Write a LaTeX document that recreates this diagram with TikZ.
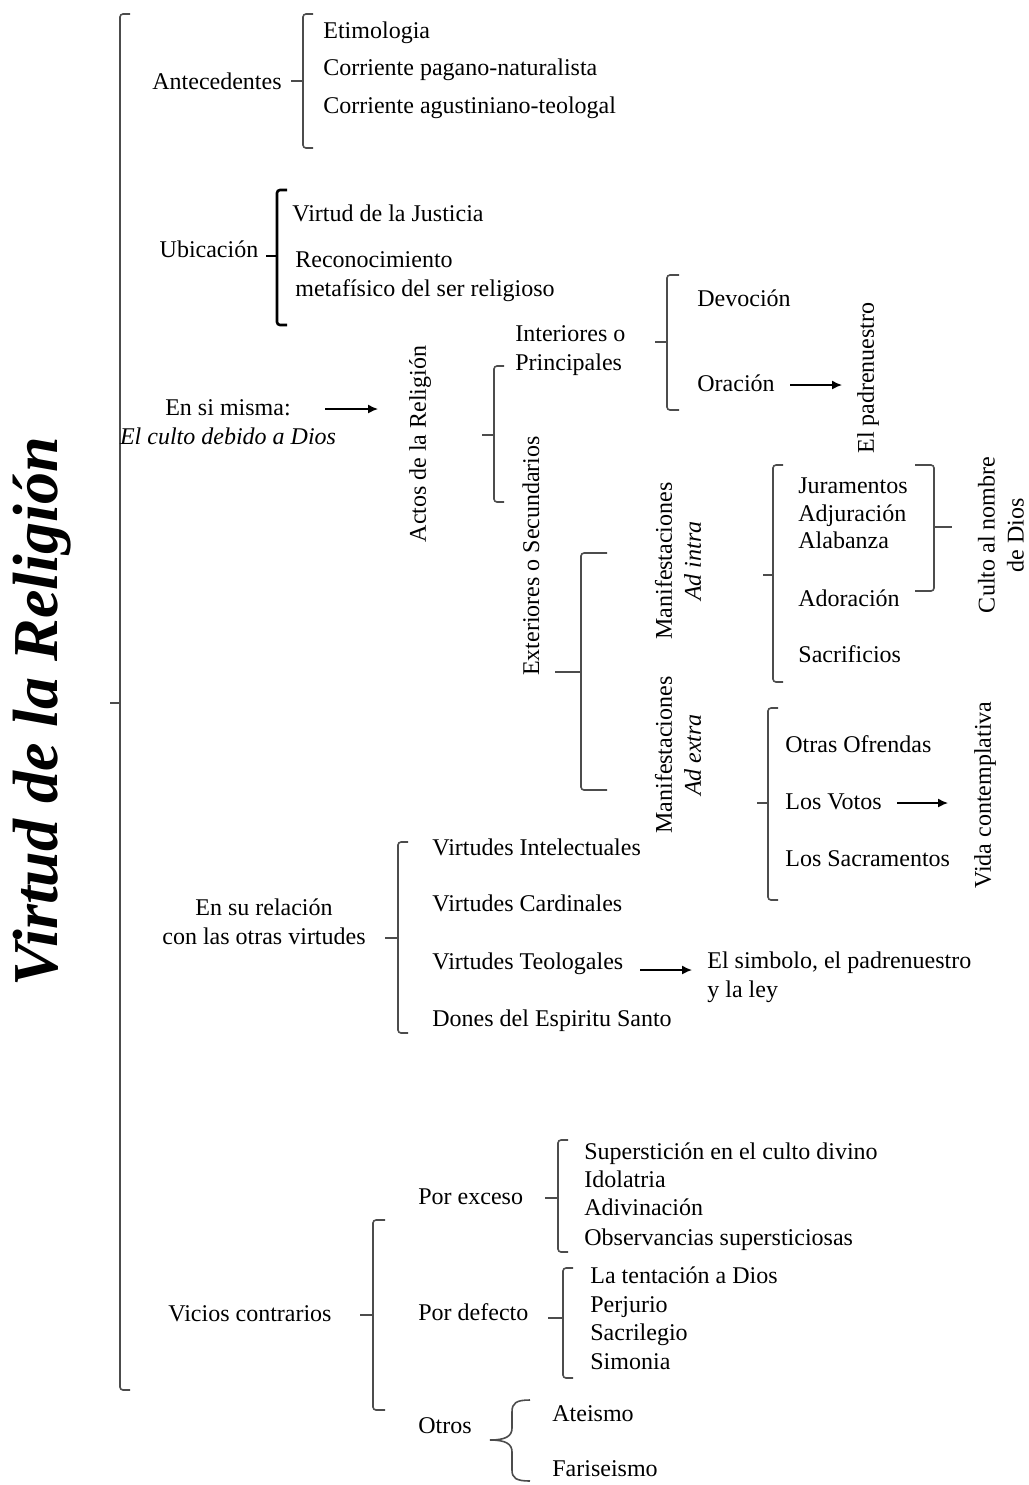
\documentclass[tikz,border=0pt]{standalone}
\usepackage{fontspec}
\setmainfont{Liberation Serif}
\usetikzlibrary{arrows.meta}
\newcommand\lbrk[7][]{%
  \draw[brk,#1] (#2+#6,#3) -- (#2,#3) -- (#2,#4) -- (#2+#6,#4);
  \draw[brk,#1] (#2,#5) -- (#2-#7,#5);}
\begin{document}
\begin{tikzpicture}[x=0.5pt,y=-0.5pt,
  txt/.style={inner sep=0pt, font=\fontsize{12}{14.5}\selectfont, text=black},
  item/.style={txt, anchor=west, text height=8.6pt, text depth=2.6pt},
  lbl/.style={txt, align=center},
  vert/.style={txt, align=center, rotate=90},
  brk/.style={draw=black!70, line width=0.8pt, rounded corners=1.5pt},
  bold brk/.style={draw=black, line width=1.3pt},
  arr/.style={-{Latex[length=5pt,width=4.5pt]}, line width=0.7pt, draw=black}
]
\useasboundingbox (0,0) rectangle (1029,1485);

% title and main bracket
\node[vert, font=\fontsize{32}{36}\selectfont\bfseries\itshape] (title) at (42,712) {Virtud de la Religión};
\lbrk{120}{14}{1390}{703}{10}{10}

% Antecedentes
\node[lbl] (antec) at (217,81) {Antecedentes};
\lbrk{303}{14}{148}{81}{10}{12}
\node[item] (etim) at (323,32) {Etimologia};
\node[item] (pagano) at (323,69) {Corriente pagano-naturalista};
\node[item] (agust) at (323,107) {Corriente agustiniano-teologal};

% Ubicacion
\node[lbl] (ubic) at (209,249) {Ubicación};
\lbrk[bold brk]{277}{190}{325}{256}{10}{11}
\node[item] (justicia) at (292,215) {Virtud de la Justicia};
\node[txt, anchor=west, align=left] (recon) at (295,277) {Reconocimiento\\metafísico del ser religioso};

% En si misma
\node[lbl] (ensi) at (228,422) {En si misma:\\\textit{El culto debido a Dios}};
\coordinate (a1s) at (325,409);
\coordinate (a1e) at (378,409);
\draw[arr] (a1s) -- (a1e);
\node[vert] (actos) at (420,444) {Actos de la Religión};
\lbrk{494}{366}{502}{435}{10}{12}
\node[txt, anchor=west, align=left] (interiores) at (515,351) {Interiores o\\Principales};
\node[vert] (exteriores) at (531,556) {Exteriores o Secundarios};

% Interiores
\lbrk{667}{275}{410}{342}{12}{12}
\node[item] (devocion) at (697,300) {Devoción};
\node[item] (oracion) at (697,385) {Oración};
\coordinate (a2s) at (790,385);
\coordinate (a2e) at (842,385);
\draw[arr] (a2s) -- (a2e);
\node[vert] (padre) at (868,378) {El padrenuestro};

% Exteriores
\lbrk{581}{553}{790}{672}{26}{26}
\node[vert] (adintra) at (678,561) {Manifestaciones\\\textit{Ad intra}};
\node[vert] (adextra) at (678,755) {Manifestaciones\\\textit{Ad extra}};

% Ad intra
\lbrk{773}{465}{682}{575}{10}{10}
\node[item] (jur) at (798,487) {Juramentos};
\node[item] (adj) at (798,515) {Adjuración};
\node[item] (alab) at (798,542) {Alabanza};
\node[item] (ador) at (798,600) {Adoración};
\node[item] (sacr) at (798,656) {Sacrificios};
\draw[brk] (915,465) -- (934,465) -- (934,591) -- (915,591);
\draw[brk] (934,527) -- (952,527);
\node[vert] (culto) at (1001,535) {Culto al nombre\\de Dios};

% Ad extra
\lbrk{768}{708}{900}{803}{10}{11}
\node[item] (ofrendas) at (785,746) {Otras Ofrendas};
\node[item] (votos) at (785,803) {Los Votos};
\node[item] (sacram) at (785,860) {Los Sacramentos};
\coordinate (a3s) at (897,803);
\coordinate (a3e) at (948,803);
\draw[arr] (a3s) -- (a3e);
\node[vert] (vida) at (985,795) {Vida contemplativa};

% Relacion con otras virtudes
\node[lbl] (relacion) at (264,922) {En su relación\\con las otras virtudes};
\lbrk{398}{842}{1033}{938}{10}{13}
\node[item] (intel) at (432,849) {Virtudes Intelectuales};
\node[item] (card) at (432,905) {Virtudes Cardinales};
\node[item] (teol) at (432,963) {Virtudes Teologales};
\node[item] (dones) at (432,1020) {Dones del Espiritu Santo};
\coordinate (a4s) at (640,970);
\coordinate (a4e) at (692,970);
\draw[arr] (a4s) -- (a4e);
\node[txt, anchor=west, align=left] (simbolo) at (707,977) {El simbolo, el padrenuestro\\y la ley};

% Vicios contrarios
\node[lbl] (vicios) at (250,1314) {Vicios contrarios};
\lbrk{373}{1220}{1410}{1315}{12}{13}
\node[item] (exceso) at (418,1198) {Por exceso};
\lbrk{558}{1140}{1252}{1198}{10}{13}
\node[item] (sup) at (584,1153) {Superstición en el culto divino};
\node[item] (idol) at (584,1181) {Idolatria};
\node[item] (adiv) at (584,1209) {Adivinación};
\node[item] (obs) at (584,1239) {Observancias supersticiosas};
\node[item] (defecto) at (418,1314) {Por defecto};
\lbrk{563}{1268}{1378}{1318}{10}{15}
\node[item] (tent) at (590,1277) {La tentación a Dios};
\node[item] (perj) at (590,1306) {Perjurio};
\node[item] (sacril) at (590,1334) {Sacrilegio};
\node[item] (simon) at (590,1363) {Simonia};
\node[item] (otros) at (418,1427) {Otros};
\draw[brk, rounded corners=0pt] (530,1400) .. controls (516,1400) and (512,1403) .. (512,1412) -- (512,1428) .. controls (512,1436) and (506,1440) .. (490,1440)
  .. controls (506,1440) and (512,1444) .. (512,1452) -- (512,1470) .. controls (512,1478) and (516,1481) .. (530,1481);
\node[item] (ateismo) at (552,1415) {Ateismo};
\node[item] (fariseismo) at (552,1470) {Fariseismo};
\end{tikzpicture}
\end{document}
